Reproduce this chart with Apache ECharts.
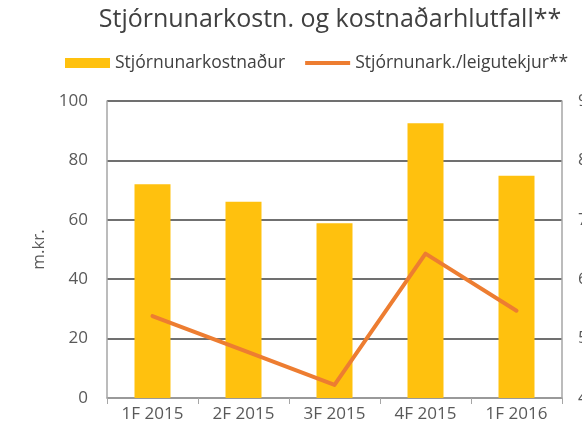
<!DOCTYPE html>
<html>
<head>
<meta charset="utf-8">
<script src="https://cdn.jsdelivr.net/npm/echarts@6/dist/echarts.min.js"></script>
<style>
  html, body { margin: 0; padding: 0; background: #fff; }
  #chart { width: 582px; height: 437px; }
</style>
</head>
<body>
<div id="chart"></div>
<script>
// gögn lesin af myndinni
var categories = ['1F 2015', '2F 2015', '3F 2015', '4F 2015', '1F 2016']
var costValues = [72, 66.1, 58.8, 92.5, 74.8]        // m.kr.
var ratioValues = [5.38, 4.8, 4.22, 6.43, 5.47]      // hlutfall, %
var leftTicks = { min: 0, max: 100, interval: 20 }
var rightTicks = { min: 4, max: 9, interval: 1 }

var font = '"Open Sans", "Noto Sans", sans-serif'
var chart = echarts.init(document.getElementById('chart'))

// þykk lína í skýringu (ósýnilegir punktar halda hæðinni)
var lineIcon = 'path://M0,0 L0.01,0 Z M0,3 L45,3 L45,7 L0,7 Z M0,10 L0.01,10 Z'

chart.setOption({
  animation: false,
  title: {
    text: 'Stjórnunarkostn. og kostnaðarhlutfall**',
    left: 325,
    textAlign: 'center',
    top: 2,
    textStyle: { fontFamily: font, fontSize: 25, fontWeight: 'normal', color: '#404040' }
  },
  legend: {
    top: 54,
    left: 65,
    width: 517,
    padding: 0,
    itemWidth: 45,
    itemHeight: 10,
    itemGap: 20,
    textStyle: { fontFamily: font, fontSize: 17.5, color: '#404040' },
    data: [
      { name: 'Stjórnunarkostnaður', icon: 'rect' },
      { name: 'Stjórnunark./leigutekjur**', icon: lineIcon }
    ]
  },
  grid: { left: 107, right: 20, top: 101, bottom: 39, outerBoundsMode: 'none' },
  xAxis: {
    type: 'category',
    data: categories,
    axisLine: { lineStyle: { color: '#a6a6a6', width: 1.5 } },
    axisTick: { show: true, length: 6, lineStyle: { color: '#a6a6a6' } },
    axisLabel: { fontFamily: font, fontSize: 17, color: '#595959', margin: 8 }
  },
  yAxis: [
    {
      type: 'value',
      min: leftTicks.min,
      max: leftTicks.max,
      interval: leftTicks.interval,
      name: 'm.kr.',
      nameLocation: 'middle',
      nameGap: 50,
      nameTextStyle: { fontFamily: font, fontSize: 17, color: '#595959' },
      axisLine: { show: true, lineStyle: { color: '#a6a6a6', width: 1.5 } },
      axisTick: { show: false },
      axisLabel: { fontFamily: font, fontSize: 17, color: '#595959', margin: 19 },
      splitLine: { lineStyle: { color: '#404040', width: 1.5 } }
    },
    {
      type: 'value',
      position: 'right',
      min: rightTicks.min,
      max: rightTicks.max,
      interval: rightTicks.interval,
      axisLine: { show: true, lineStyle: { color: '#a6a6a6', width: 1.5 } },
      axisTick: { show: false },
      axisLabel: { fontFamily: font, fontSize: 17, color: '#595959', margin: 16, formatter: '{value},0%' },
      splitLine: { show: false }
    }
  ],
  series: [
    {
      name: 'Stjórnunarkostnaður',
      type: 'bar',
      data: costValues,
      barWidth: 36,
      itemStyle: { color: '#FFC10E' }
    },
    {
      name: 'Stjórnunark./leigutekjur**',
      type: 'line',
      yAxisIndex: 1,
      data: ratioValues,
      symbol: 'none',
      lineStyle: { color: '#ED7D31', width: 4, cap: 'round', join: 'round' },
      itemStyle: { color: '#ED7D31' }
    }
  ]
})
</script>
</body>
</html>
